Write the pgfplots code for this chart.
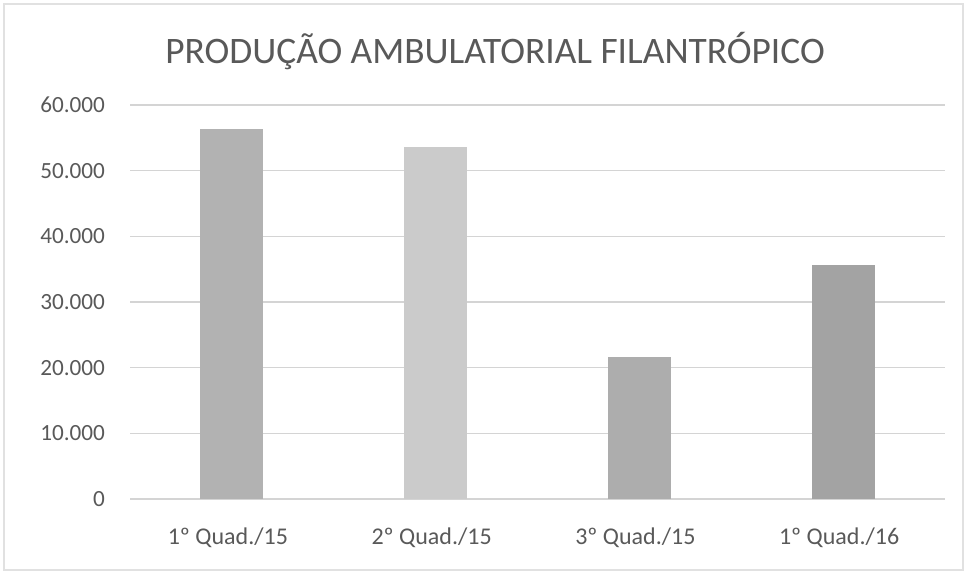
\documentclass[border=0pt]{standalone}
\usepackage{pgfplots}
\pgfplotsset{compat=1.18}
\usepackage{fontspec}
\setmainfont{Carlito}
\definecolor{txt}{HTML}{595959}
\definecolor{gridc}{HTML}{D4D4D4}
\definecolor{b1}{HTML}{B2B2B2}
\definecolor{b2}{HTML}{CBCBCB}
\definecolor{b3}{HTML}{ADADAD}
\definecolor{b4}{HTML}{A3A3A3}
\begin{document}
\begin{tikzpicture}
\path[use as bounding box] (0,0) rectangle (483.5pt,287pt);
\draw[draw=gridc!70, line width=0.6pt] (2pt,2pt) rectangle (481.5pt,285pt);
\begin{axis}[
  at={(65pt,37.5pt)}, anchor=south west,
  scale only axis, width=407.5pt, height=197pt,
  ybar, bar width=31.5pt,
  xmin=-0.5, xmax=3.5, ymin=0, ymax=60000,
  xtick={0,1,2,3},
  xticklabels={1º Quad./15, 2º Quad./15, 3º Quad./15, 1º Quad./16},
  ytick={0,10000,20000,30000,40000,50000,60000},
  scaled y ticks=false,
  /pgf/number format/.cd, 1000 sep={.}, assume math mode=true,
  /pgfplots/.cd,
  major tick length=0pt,
  axis line style={draw=none},
  xmajorgrids=false, ymajorgrids=true,
  grid style={draw=gridc, line width=0.7pt},
  yticklabel style={font=\fontsize{11.6}{13}\selectfont, text=txt, xshift=-9pt},
  xticklabel style={font=\fontsize{12}{14}\selectfont, text=txt, yshift=-11pt, xshift=-2pt},
  clip=false,
]
\addplot[fill=b1, draw=none, bar shift=0pt] coordinates {(0,56400)};
\addplot[fill=b2, draw=none, bar shift=0pt] coordinates {(1,53600)};
\addplot[fill=b3, draw=none, bar shift=0pt] coordinates {(2,21700)};
\addplot[fill=b4, draw=none, bar shift=0pt] coordinates {(3,35600)};
\end{axis}
\node[text=txt, font=\fontsize{18.7}{22}\selectfont] at (247.5pt,261.5pt) {PRODUÇÃO AMBULATORIAL FILANTRÓPICO};
\end{tikzpicture}
\end{document}
